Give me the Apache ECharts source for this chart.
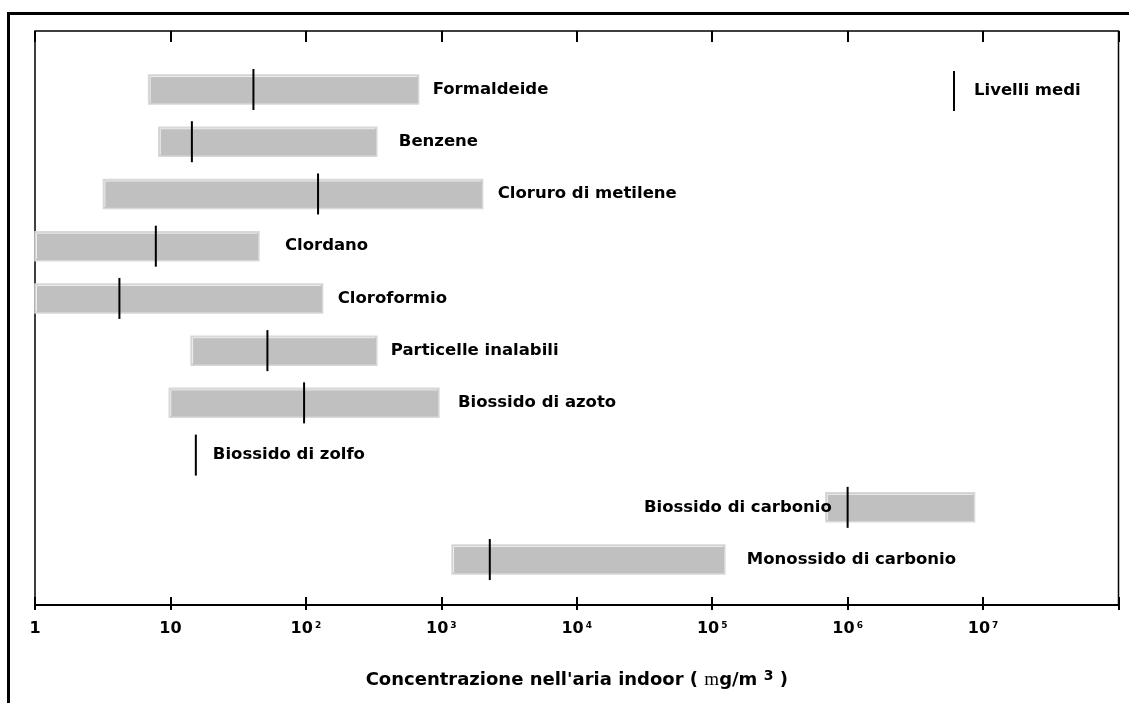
<!DOCTYPE html>
<html><head><meta charset="utf-8">
<script src="https://cdn.jsdelivr.net/npm/echarts@6/dist/echarts.min.js"></script>
<style>html,body{margin:0;padding:0;background:#fff}#c{width:1129px;height:703px}</style>
</head><body><div id="c"></div>
<script>
// ---------- DATA ----------
const categories = ['Formaldeide', 'Benzene', 'Cloruro di metilene', 'Clordano', 'Cloroformio',
  'Particelle inalabili', 'Biossido di azoto', 'Biossido di zolfo', 'Biossido di carbonio', 'Monossido di carbonio'];
const rangeLow  = [6.9, 8.2, 3.2, 1.0, 1.0, 14.2, 9.8, null, 690000, 1200];
const rangeHigh = [680, 334, 2020, 45, 133, 334, 960, null, 8650000, 124000];
const mediumLevel = [41, 14.4, 123, 7.8, 4.2, 52, 97, 15.4, 1000000, 2280];
const tickLabels = ['1', '10', '10|2', '10|3', '10|4', '10|5', '10|6', '10|7', ''];
const axisTitle = ["Concentrazione nell'aria indoor ( ", 'm', 'g/m ', '3', ' )'];
const legendText = 'Livelli medi';

// ---------- STYLE / LAYOUT ----------
const FONT = '"DejaVu Sans", sans-serif';
const LABEL_SIZE = 16.5;
const BAR_H = 29, MED_H = 41;
const labelLayout = [
  {ref: 'end', dx: 14}, {ref: 'end', dx: 22}, {ref: 'end', dx: 15}, {ref: 'end', dx: 26}, {ref: 'end', dx: 15},
  {ref: 'end', dx: 14}, {ref: 'end', dx: 19}, {ref: 'end', dx: 17}, {ref: 'start', dx: 6}, {ref: 'end', dx: 22}
];

const seriesData = categories.map((c, i) => [i,
  rangeLow[i] == null ? '-' : rangeLow[i],
  rangeHigh[i] == null ? '-' : rangeHigh[i],
  mediumLevel[i]]);

function renderItem(params, api) {
  const i = params.dataIndex;
  const row = api.value(0), lo = api.value(1), hi = api.value(2), med = api.value(3);
  const yc = api.coord([1, row])[1];
  const children = [];
  let x0 = null, x1 = null;
  if (isFinite(lo) && isFinite(hi)) {
    x0 = api.coord([lo, row])[0];
    x1 = api.coord([hi, row])[0];
    children.push({type: 'rect', shape: {x: x0, y: yc - BAR_H / 2, width: x1 - x0, height: BAR_H},
      style: {fill: '#c0c0c0', stroke: '#d8d8d8', lineWidth: 1.5}});
    children.push({type: 'polyline', shape: {points: [[x0 + 1.5, yc + BAR_H / 2 - 1.5], [x0 + 1.5, yc - BAR_H / 2 + 1.5], [x1 - 1.5, yc - BAR_H / 2 + 1.5]]},
      style: {stroke: '#eeeeee', lineWidth: 1, fill: null}});
  }
  const xm = api.coord([med, row])[0];
  children.push({type: 'line', shape: {x1: xm, y1: yc - MED_H / 2, x2: xm, y2: yc + MED_H / 2},
    style: {stroke: '#000', lineWidth: 2}});
  const L = labelLayout[i];
  let lx, align;
  if (L.ref === 'start' && x0 != null) { lx = x0 + L.dx; align = 'right'; }
  else { lx = (x1 != null ? x1 : xm) + L.dx; align = 'left'; }
  children.push({type: 'text', style: {text: categories[i], x: lx, y: yc, fill: '#000',
    fontFamily: FONT, fontWeight: 'bold', fontSize: LABEL_SIZE, align: align, verticalAlign: 'middle'}});
  return {type: 'group', children};
}

function tickFormatter(v) {
  const e = Math.round(Math.log10(v));
  const t = tickLabels[e];
  if (!t) return '';
  const parts = t.split('|');
  return parts.length > 1 ? '{b|' + parts[0] + '}{s|' + parts[1] + '}' : '{b|' + parts[0] + '}';
}

const baseX = {type: 'log', logBase: 10, min: 1, max: 1e8, splitNumber: 8, gridIndex: 0,
  splitLine: {show: false}, minorTick: {show: false}};

const option = {
  animation: false,
  backgroundColor: '#fff',
  grid: {left: 35, right: 10.5, top: 31, bottom: 98, show: true, borderColor: '#000', borderWidth: 1.5},
  xAxis: [
    Object.assign({}, baseX, {
      position: 'bottom',
      axisLine: {show: true, onZero: false, lineStyle: {color: '#000', width: 2}},
      axisTick: {show: true, inside: false, length: 5, lineStyle: {color: '#000', width: 2}},
      axisLabel: {show: true, margin: 14.5, formatter: tickFormatter, showMinLabel: true, showMaxLabel: true,
        rich: {
          b: {fontFamily: FONT, fontWeight: 'bold', fontSize: 16, color: '#000', lineHeight: 18},
          s: {fontFamily: FONT, fontWeight: 'bold', fontSize: 9, color: '#000', lineHeight: 10, verticalAlign: 'top', padding: [2, 0, 0, 2]}
        }},
      name: '{b|' + axisTitle[0] + '}{m|' + axisTitle[1] + '}{b|' + axisTitle[2] + '}{s|' + axisTitle[3] + '}{b|' + axisTitle[4] + '}',
      nameLocation: 'middle', nameGap: 64,
      nameTextStyle: {rich: {
        b: {fontFamily: FONT, fontWeight: 'bold', fontSize: 18, color: '#000', lineHeight: 22},
        m: {fontFamily: '"Liberation Serif", serif', fontSize: 19, color: '#000', lineHeight: 22},
        s: {fontFamily: FONT, fontWeight: 'bold', fontSize: 14, color: '#000', lineHeight: 14, verticalAlign: 'top'}
      }}
    }),
    Object.assign({}, baseX, {
      position: 'bottom',
      axisLine: {show: false, onZero: false},
      axisTick: {show: true, inside: true, length: 8, lineStyle: {color: '#000', width: 2}},
      axisLabel: {show: false}
    }),
    Object.assign({}, baseX, {
      position: 'top',
      axisLine: {show: false, onZero: false},
      axisTick: {show: true, inside: true, length: 11, lineStyle: {color: '#000', width: 2}},
      axisLabel: {show: false}
    })
  ],
  yAxis: {type: 'value', min: -1.12, max: 9.87, inverse: true, show: false},
  series: [{
    type: 'custom', xAxisIndex: 0, yAxisIndex: 0, renderItem: renderItem,
    encode: {x: [1, 2, 3], y: 0},
    data: seriesData
  }],
  graphic: [
    {type: 'line', shape: {x1: 7, y1: 13.5, x2: 1129, y2: 13.5}, style: {stroke: '#000', lineWidth: 3}},
    {type: 'line', shape: {x1: 8.5, y1: 12, x2: 8.5, y2: 703}, style: {stroke: '#000', lineWidth: 3}},
    {type: 'line', shape: {x1: 954, y1: 71, x2: 954, y2: 111}, style: {stroke: '#000', lineWidth: 2}},
    {type: 'text', x: 974, y: 91, style: {text: legendText, fill: '#000', fontFamily: FONT, fontWeight: 'bold', fontSize: LABEL_SIZE, verticalAlign: 'middle', textVerticalAlign: 'middle'}}
  ]
};

const chart = echarts.init(document.getElementById('c'));
chart.setOption(option);
</script>
</body></html>
